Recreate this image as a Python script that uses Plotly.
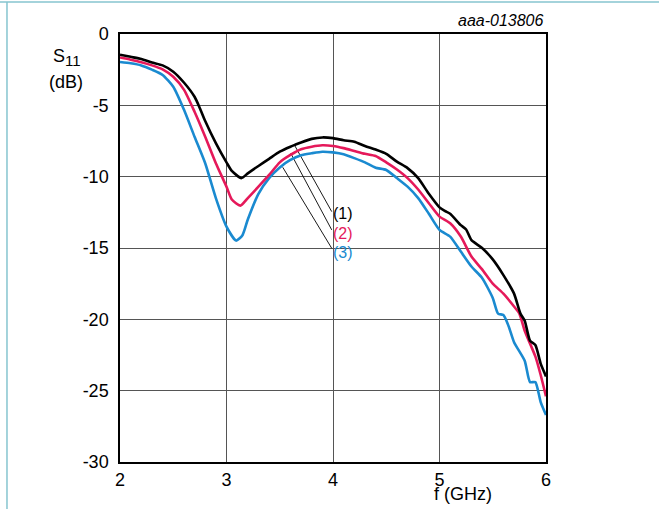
import plotly.graph_objects as go

# Frequency (GHz) and S11 (dB) for the three curves
f1 = [2.0, 2.1, 2.2, 2.3, 2.4, 2.5, 2.6, 2.7, 2.75, 2.8, 2.9, 3.0, 3.05, 3.14, 3.2, 3.3, 3.4, 3.5, 3.6, 3.65,
      3.7, 3.8, 3.9, 4.0, 4.1, 4.2, 4.3, 4.4, 4.5, 4.6, 4.7, 4.8, 4.9, 5.0, 5.05, 5.1, 5.2, 5.25, 5.3, 5.4,
      5.5, 5.6, 5.7, 5.76, 5.8, 5.85, 5.9, 5.95, 6.0]
s1 = [-1.45, -1.6, -1.75, -2.0, -2.2, -2.64, -3.4, -4.4, -5.2, -6.1, -7.65, -9.0, -9.6, -10.1, -9.77, -9.25,
      -8.75, -8.25, -7.9, -7.75, -7.6, -7.35, -7.25, -7.3, -7.45, -7.55, -7.85, -8.1, -8.4, -8.95, -9.4,
      -10.1, -11.2, -12.15, -12.4, -12.6, -13.4, -13.7, -14.45, -15.0, -15.8, -16.9, -18.2, -19.6, -20.1,
      -21.5, -21.8, -23.1, -24.0]

f2 = [2.0, 2.1, 2.2, 2.3, 2.4, 2.5, 2.6, 2.7, 2.8, 2.9, 3.0, 3.05, 3.13, 3.2, 3.3, 3.4, 3.5, 3.6, 3.7, 3.8,
      3.9, 4.0, 4.1, 4.2, 4.3, 4.4, 4.5, 4.6, 4.7, 4.8, 4.9, 5.0, 5.1, 5.2, 5.3, 5.4, 5.5, 5.6, 5.7, 5.75,
      5.8, 5.9, 5.95, 6.0]
s2 = [-1.65, -1.8, -1.98, -2.2, -2.48, -3.0, -3.9, -5.45, -7.2, -9.06, -10.7, -11.6, -12.03, -11.5, -10.7,
      -9.88, -9.0, -8.48, -8.08, -7.9, -7.8, -7.85, -8.0, -8.2, -8.4, -8.55, -9.0, -9.5, -10.1, -10.9,
      -11.86, -12.8, -13.27, -14.2, -15.6, -16.5, -17.5, -18.2, -19.1, -19.6, -20.8, -22.6, -23.9, -25.4]

f3 = [2.0, 2.1, 2.2, 2.3, 2.4, 2.5, 2.6, 2.7, 2.8, 2.9, 3.0, 3.09, 3.15, 3.2, 3.3, 3.4, 3.5, 3.6, 3.7, 3.8,
      3.9, 4.0, 4.1, 4.2, 4.3, 4.4, 4.5, 4.6, 4.7, 4.8, 4.9, 5.0, 5.1, 5.2, 5.3, 5.4, 5.5, 5.55, 5.6, 5.65,
      5.7, 5.8, 5.85, 5.9, 5.95, 6.0]
s3 = [-1.96, -2.05, -2.2, -2.5, -2.87, -3.7, -5.3, -7.2, -9.06, -11.5, -13.5, -14.48, -14.1, -13.0, -11.2,
      -10.1, -9.35, -8.83, -8.5, -8.36, -8.25, -8.3, -8.43, -8.7, -9.0, -9.37, -9.53, -10.1, -10.7, -11.5,
      -12.6, -13.73, -14.2, -15.25, -16.3, -17.1, -18.5, -19.6, -19.7, -20.5, -21.6, -22.9, -24.4, -24.4,
      -25.8, -26.7]

labels = ["(1)", "(2)", "(3)"]
colors = ["#000000", "#e5195a", "#1a8ad0"]

# Leader lines: start on curve, end at label
lead_start = [(3.643, -7.85), (3.603, -8.36), (3.528, -9.34)]
lead_end = [(3.988, -12.45), (3.988, -13.73), (3.988, -15.02)]
label_pos = [(4.02, -12.6), (4.02, -13.95), (4.02, -15.3)]

x_ticks = [2, 3, 4, 5, 6]
y_ticks = [0, -5, -10, -15, -20, -25, -30]

FONT = "Liberation Sans, Arial, sans-serif"

fig = go.Figure()
for (x0, y0), (x1, y1) in zip(lead_start, lead_end):
    fig.add_trace(go.Scatter(x=[x0, x1], y=[y0, y1], mode="lines",
                             line=dict(color="#000000", width=0.9), hoverinfo="skip", showlegend=False))
for fx, sy, c in zip([f3, f2, f1], [s3, s2, s1], [colors[2], colors[1], colors[0]]):
    fig.add_trace(go.Scatter(x=fx, y=sy, mode="lines",
                             line=dict(color=c, width=2.6, shape="spline", smoothing=0.6),
                             showlegend=False))

for lab, (lx, ly), c in zip(labels, label_pos, colors):
    fig.add_annotation(x=lx, y=ly, text=lab, showarrow=False, xanchor="left", yanchor="middle",
                       font=dict(family=FONT, size=16, color=c), xshift=-4)

fig.add_annotation(xref="paper", yref="paper", x=1.0, y=1.0, yshift=14, text="<i>aaa-013806</i>",
                   showarrow=False, xanchor="right", yanchor="middle",
                   font=dict(family=FONT, size=16, color="#000000"))
fig.add_annotation(xref="paper", yref="paper", x=-0.125, y=0.944,
                   text='S<sub><span style="font-size:15px">11</span></sub>',
                   showarrow=False, xanchor="center", yanchor="middle",
                   font=dict(family=FONT, size=18, color="#000000"))
fig.add_annotation(xref="paper", yref="paper", x=-0.127, y=0.889, text="(dB)",
                   showarrow=False, xanchor="center", yanchor="middle",
                   font=dict(family=FONT, size=18, color="#000000"))
fig.add_annotation(xref="paper", yref="paper", x=0.805, y=-0.075, text="f (GHz)",
                   showarrow=False, xanchor="center", yanchor="middle",
                   font=dict(family=FONT, size=18, color="#000000"))

# light blue page frame (top and left)
fig.add_shape(type="line", xref="paper", yref="paper", x0=-0.3, x1=1.3, y0=1.0748, y1=1.0748,
              line=dict(color="#86c5cf", width=1.5))
fig.add_shape(type="line", xref="paper", yref="paper", x0=-0.2653, x1=-0.2653, y0=-0.2, y1=1.0748,
              line=dict(color="#86c5cf", width=1.5))

fig.update_xaxes(range=[2, 6], tickvals=x_ticks, ticktext=[str(v) for v in x_ticks],
                 showgrid=True, gridcolor="#555555", gridwidth=1.2, zeroline=False,
                 showline=True, linecolor="#000000", linewidth=1.5, mirror=True,
                 ticks="", ticklabelstandoff=1,
                 tickfont=dict(family=FONT, size=18, color="#000000"))
fig.update_yaxes(range=[-30, 0], tickvals=y_ticks, ticktext=[str(v) for v in y_ticks],
                 showgrid=True, gridcolor="#555555", gridwidth=1.2, zeroline=False,
                 showline=True, linecolor="#000000", linewidth=1.5, mirror=True,
                 ticks="", ticklabelstandoff=6,
                 tickfont=dict(family=FONT, size=18, color="#000000"))

fig.update_layout(width=659, height=509, margin=dict(l=120, r=113, t=34, b=47),
                  plot_bgcolor="#ffffff", paper_bgcolor="#ffffff")

fig.write_html("out.html", config={"displayModeBar": False},
               post_script="document.body.style.margin='0px';document.body.style.overflow='hidden';")
